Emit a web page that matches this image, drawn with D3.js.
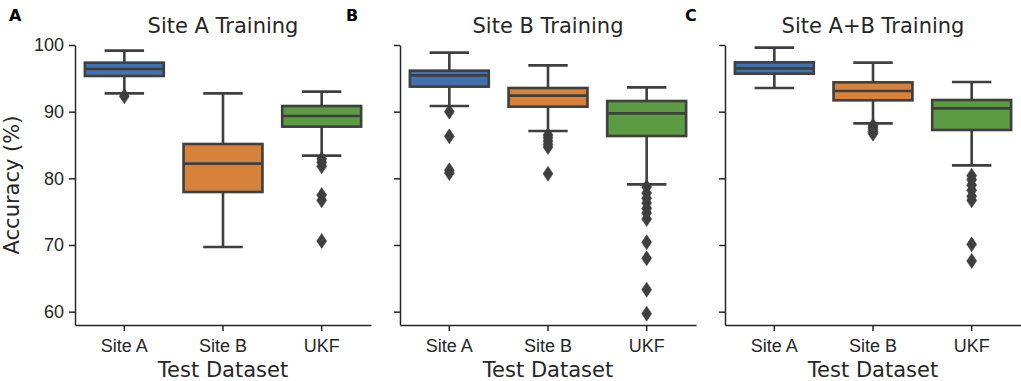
<!DOCTYPE html>
<html>
<head>
<meta charset="utf-8">
<script src="https://cdn.jsdelivr.net/npm/d3@7"></script>
<style>
  body { margin: 0; background: #fff; }
  svg { font-family: "DejaVu Sans", sans-serif; }
  .axis path, .axis line { stroke: #262626; stroke-width: 1.5; }
  .axis text { fill: #262626; font-size: 18px; }
</style>
</head>
<body>
<script>
// chart size
var w = 1021;
var h = 381;

var categories = ["Site A", "Site B", "UKF"];
var panelTitles = ["Site A Training", "Site B Training", "Site A+B Training"];
var panelLetters = ["A", "B", "C"];
var yTicks = [60, 70, 80, 90, 100];
var boxColors = ["#4271b0", "#d6823a", "#5b9b41"];

// [lower whisker, q1, median, q3, upper whisker] per test dataset
var siteAStats = [
  [92.75, 95.35, 96.4, 97.35, 99.15],
  [69.7, 77.95, 82.2, 85.15, 92.75],
  [83.4, 87.75, 89.35, 90.85, 93.0]
];
var siteAOutliers = [
  [92.3],
  [],
  [82.9, 82.4, 81.8, 77.5, 76.7, 70.6]
];

var siteBStats = [
  [90.85, 93.75, 95.45, 96.15, 98.85],
  [87.1, 90.75, 92.4, 93.55, 96.95],
  [79.1, 86.35, 89.75, 91.6, 93.65]
];
var siteBOutliers = [
  [90.0, 86.3, 81.2, 80.8],
  [86.5, 86.1, 85.6, 85.1, 84.7, 80.7],
  [78.7, 77.8, 77.0, 76.3, 75.5, 74.8, 73.9, 70.4, 68.0, 63.3, 59.7]
];

var siteABStats = [
  [93.55, 95.7, 96.5, 97.4, 99.6],
  [88.25, 91.7, 93.1, 94.4, 97.35],
  [81.95, 87.25, 90.5, 91.75, 94.45]
];
var siteABOutliers = [
  [],
  [87.9, 87.6, 87.3, 87.0, 86.7],
  [80.4, 79.8, 79.0, 78.2, 77.3, 76.7, 70.1, 67.6]
];

var panelStats = [siteAStats, siteBStats, siteABStats];
var panelOutliers = [siteAOutliers, siteBOutliers, siteABOutliers];

var panelLeft = [75, 400, 725];
var panelWidth = 296;
var plotTop = 45, plotBottom = 325;
var lineColor = "#3f3f3f";

var svg = d3.select("body")
            .append("svg")
            .attr("width", w)
            .attr("height", h);

var yScale = d3.scaleLinear()
               .domain([58, 100])
               .range([plotBottom, plotTop]);

panelStats.forEach(function(stats, p) {
  var g = svg.append("g")
             .attr("transform", "translate(" + panelLeft[p] + ",0)");

  var xScale = d3.scaleBand()
                 .domain(categories)
                 .range([0, panelWidth]);

  var boxW = xScale.bandwidth() * 0.8;
  var capW = boxW / 2;

  // axes
  var yAxis = d3.axisLeft(yScale)
                .tickValues(yTicks)
                .tickSize(6)
                .tickPadding(5)
                .tickSizeOuter(0);
  if (p > 0) yAxis.tickFormat("");
  g.append("g")
   .attr("class", "axis")
   .call(yAxis);

  g.append("g")
   .attr("class", "axis")
   .attr("transform", "translate(0," + plotBottom + ")")
   .call(d3.axisBottom(xScale).tickSize(6).tickPadding(8).tickSizeOuter(0));

  categories.forEach(function(cat, i) {
    var s = stats[i];
    var cx = xScale(cat) + xScale.bandwidth() / 2;
    var box = g.append("g");

    // whiskers
    box.append("line")
       .attr("x1", cx).attr("x2", cx)
       .attr("y1", yScale(s[0])).attr("y2", yScale(s[1]))
       .attr("stroke", lineColor).attr("stroke-width", 2.6);
    box.append("line")
       .attr("x1", cx).attr("x2", cx)
       .attr("y1", yScale(s[3])).attr("y2", yScale(s[4]))
       .attr("stroke", lineColor).attr("stroke-width", 2.6);
    [s[0], s[4]].forEach(function(v) {
      box.append("line")
         .attr("x1", cx - capW / 2).attr("x2", cx + capW / 2)
         .attr("y1", yScale(v)).attr("y2", yScale(v))
         .attr("stroke", lineColor).attr("stroke-width", 2.6);
    });

    // box
    box.append("rect")
       .attr("x", cx - boxW / 2)
       .attr("y", yScale(s[3]))
       .attr("width", boxW)
       .attr("height", yScale(s[1]) - yScale(s[3]))
       .attr("fill", boxColors[i])
       .attr("stroke", lineColor)
       .attr("stroke-width", 2.6);

    // median
    box.append("line")
       .attr("x1", cx - boxW / 2).attr("x2", cx + boxW / 2)
       .attr("y1", yScale(s[2])).attr("y2", yScale(s[2]))
       .attr("stroke", lineColor).attr("stroke-width", 2.6);

    // fliers (thin diamonds)
    box.selectAll("path.flier")
       .data(panelOutliers[p][i])
       .enter()
       .append("path")
       .attr("class", "flier")
       .attr("d", function(d) {
         var y = yScale(d);
         return "M" + cx + "," + (y - 7.5) + "L" + (cx + 5) + "," + y +
                "L" + cx + "," + (y + 7.5) + "L" + (cx - 5) + "," + y + "Z";
       })
       .attr("fill", lineColor)
       .attr("stroke", lineColor)
       .attr("stroke-width", 0.5);
  });

  // title
  g.append("text")
   .attr("x", panelWidth / 2)
   .attr("y", 33)
   .attr("text-anchor", "middle")
   .attr("font-size", "21px")
   .attr("fill", "#262626")
   .text(panelTitles[p]);

  // x label
  g.append("text")
   .attr("x", panelWidth / 2)
   .attr("y", 377)
   .attr("text-anchor", "middle")
   .attr("font-size", "21px")
   .attr("fill", "#262626")
   .text("Test Dataset");

  // panel letter
  svg.append("text")
     .attr("x", [9, 346, 685][p])
     .attr("y", 21)
     .attr("font-size", "16px")
     .attr("font-weight", "bold")
     .attr("fill", "#000")
     .text(panelLetters[p]);
});

// y label
svg.append("text")
   .attr("transform", "translate(19," + ((plotTop + plotBottom) / 2) + ") rotate(-90)")
   .attr("text-anchor", "middle")
   .attr("font-size", "21px")
   .attr("fill", "#262626")
   .text("Accuracy (%)");
</script>
</body>
</html>
